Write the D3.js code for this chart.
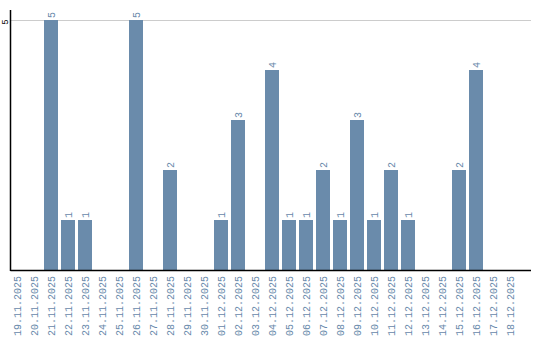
<!DOCTYPE html>
<html>
<head>
<meta charset="utf-8">
<script src="https://cdn.jsdelivr.net/npm/d3@7"></script>
<style>
body { margin: 0; background: #fff; }
svg { display: block; }
</style>
</head>
<body>
<svg id="vis" width="540" height="340"></svg>
<script>
var days = ["19.11.2025","20.11.2025","21.11.2025","22.11.2025","23.11.2025","24.11.2025",
            "25.11.2025","26.11.2025","27.11.2025","28.11.2025","29.11.2025","30.11.2025",
            "01.12.2025","02.12.2025","03.12.2025","04.12.2025","05.12.2025","06.12.2025",
            "07.12.2025","08.12.2025","09.12.2025","10.12.2025","11.12.2025","12.12.2025",
            "13.12.2025","14.12.2025","15.12.2025","16.12.2025","17.12.2025","18.12.2025"];
var counts = [0,0,5,1,1,0,0,5,0,2,0,0,1,3,0,4,1,1,2,1,3,1,2,1,0,0,2,4,0,0];
var yTicks = [5];

var barColor = "#6a8bab";
var labelColor = "#6788aa";

var rows = days.map(function(d, i) { return { day: d, value: counts[i] }; });

var canvas = d3.select("#vis");

var plotLeft = 10.5, plotRight = 531, plotTop = 20, plotBottom = 270;

var xScale = d3.scaleBand()
    .domain(days)
    .range([10, 517])
    .paddingInner(3 / 17)
    .paddingOuter(0);

var yScale = d3.scaleLinear()
    .domain([0, 5])
    .range([plotBottom, plotTop]);

// grid line
canvas.selectAll("line.grid")
    .data(yTicks)
    .enter().append("line")
    .attr("class", "grid")
    .attr("x1", plotLeft).attr("x2", plotRight)
    .attr("y1", function(d) { return yScale(d) + 0.5; })
    .attr("y2", function(d) { return yScale(d) + 0.5; })
    .attr("stroke", "#cccccc")
    .attr("stroke-width", 1);

// bars
canvas.selectAll("rect.bar")
    .data(rows)
    .enter().append("rect")
    .attr("class", "bar")
    .attr("x", function(d) { return xScale(d.day); })
    .attr("y", function(d) { return yScale(d.value); })
    .attr("width", xScale.bandwidth())
    .attr("height", function(d) { return plotBottom - yScale(d.value); })
    .style("fill", barColor);

// value labels
canvas.selectAll("text.val")
    .data(rows.filter(function(d) { return d.value > 0; }))
    .enter().append("text")
    .attr("class", "val")
    .attr("transform", function(d) {
        var cx = xScale(d.day) + xScale.bandwidth() / 2;
        return "translate(" + (cx + 3.5) + "," + (yScale(d.value) - 2) + ") rotate(-90)";
    })
    .style("font-family", "Liberation Mono")
    .style("font-size", "10px")
    .style("fill", labelColor)
    .text(function(d) { return d.value; });

// x axis
var xAxis = canvas.append("g")
    .attr("transform", "translate(0," + plotBottom + ")");
xAxis.append("line")
    .attr("x1", plotLeft).attr("x2", plotRight)
    .attr("y1", 0.5).attr("y2", 0.5)
    .attr("stroke", "#000").attr("stroke-width", 1.5);
xAxis.selectAll("text")
    .data(days)
    .enter().append("text")
    .attr("transform", function(d) {
        return "translate(" + (xScale(d) + xScale.bandwidth() / 2 + 3.5) + ",6) rotate(-90)";
    })
    .attr("text-anchor", "end")
    .style("font-family", "Liberation Mono")
    .style("font-size", "10px")
    .style("fill", labelColor)
    .text(function(d) { return d; });

// y axis
canvas.append("line")
    .attr("x1", plotLeft).attr("x2", plotLeft)
    .attr("y1", 10).attr("y2", plotBottom + 1)
    .attr("stroke", "#000").attr("stroke-width", 1.5);
canvas.selectAll("text.ytick")
    .data(yTicks)
    .enter().append("text")
    .attr("class", "ytick")
    .attr("transform", function(d) {
        return "translate(7.5," + (yScale(d) + 2) + ") rotate(-90)";
    })
    .attr("text-anchor", "middle")
    .style("font-family", "Liberation Mono")
    .style("font-size", "9px")
    .style("fill", "#000")
    .text(function(d) { return d; });
</script>
</body>
</html>
